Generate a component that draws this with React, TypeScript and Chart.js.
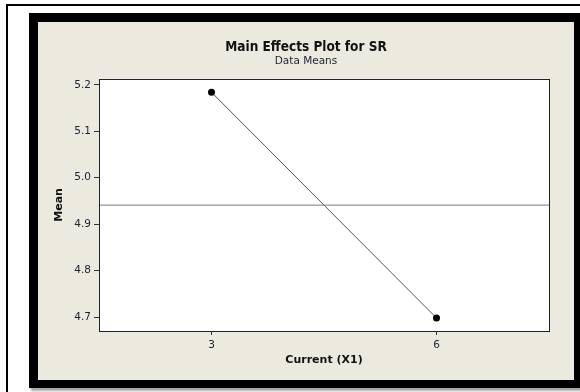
import React, { useEffect, useRef } from "react";
import { Chart, registerables } from "chart.js";

Chart.register(...registerables);

const levels = [3, 6];
const means = [5.184, 4.698];
const grandMean = 4.941;
const xTicks = [3, 6];
const yTicks = [4.7, 4.8, 4.9, 5.0, 5.1, 5.2];
const xRange = [1.5, 7.5];
const yRange = [4.67, 5.213];

const FONT = "'DejaVu Sans', Verdana, sans-serif";
const TITLE_FONT = "'DejaVu Sans Condensed', 'DejaVu Sans', sans-serif";

const framePlugin = {
  id: "frame",
  beforeDatasetsDraw(chart: any) {
    const { ctx, chartArea } = chart;
    ctx.save();
    ctx.fillStyle = "#ffffff";
    ctx.fillRect(chartArea.left, chartArea.top, chartArea.right - chartArea.left, chartArea.bottom - chartArea.top);
    ctx.restore();
  },
  afterDatasetsDraw(chart: any) {
    const { ctx, chartArea } = chart;
    ctx.save();
    ctx.strokeStyle = "#222";
    ctx.lineWidth = 1;
    ctx.strokeRect(Math.round(chartArea.left) + 0.5, Math.round(chartArea.top) + 0.5,
      Math.round(chartArea.right - chartArea.left), Math.round(chartArea.bottom - chartArea.top));
    ctx.restore();
  },
};

export default function App() {
  const ref = useRef<HTMLCanvasElement>(null);
  useEffect(() => {
    const chart = new Chart(ref.current!, {
      type: "line",
      data: {
        datasets: [
          {
            data: [
              { x: xRange[0], y: grandMean },
              { x: xRange[1], y: grandMean },
            ],
            borderColor: "#7a7a7a",
            borderWidth: 1,
            pointRadius: 0,
          },
          {
            data: levels.map((l, i) => ({ x: l, y: means[i] })),
            borderColor: "#555",
            borderWidth: 1,
            pointRadius: 3.5,
            pointBackgroundColor: "#000",
            pointBorderColor: "#000",
            pointBorderWidth: 0,
          },
        ],
      },
      options: {
        animation: false,
        responsive: false,
        layout: { padding: 0 },
        plugins: {
          legend: { display: false },
          tooltip: { enabled: false },
          title: {
            display: true,
            text: "Main Effects Plot for SR",
            font: { family: TITLE_FONT, size: 13.5, weight: "bold" },
            color: "#111",
            padding: { top: 17, bottom: 0 },
          },
          subtitle: {
            display: true,
            text: "Data Means",
            font: { family: FONT, size: 10.5 },
            color: "#1a2233",
            padding: { top: 0, bottom: 11 },
          },
        },
        scales: {
          x: {
            type: "linear",
            min: xRange[0],
            max: xRange[1],
            afterBuildTicks: (s: any) => {
              s.ticks = xTicks.map((v) => ({ value: v }));
            },
            afterFit: (s: any) => {
              s.height = 49;
            },
            grid: { drawOnChartArea: false, drawTicks: true, tickLength: 4, color: "#333" },
            border: { display: false },
            ticks: {
              font: { family: FONT, size: 10.5 },
              color: "#1a2233",
              padding: 4,
              callback: (v: any) => String(v),
            },
            title: {
              display: true,
              text: "Current (X1)",
              font: { family: FONT, size: 11, weight: "bold" },
              color: "#111",
              padding: { top: 4, bottom: 13 },
            },
          },
          y: {
            min: yRange[0],
            max: yRange[1],
            afterBuildTicks: (s: any) => {
              s.ticks = yTicks.map((v) => ({ value: v }));
            },
            afterFit: (s: any) => {
              s.width = 61;
            },
            grid: { drawOnChartArea: false, drawTicks: true, tickLength: 5, color: "#333" },
            border: { display: false },
            ticks: {
              font: { family: FONT, size: 10.5 },
              color: "#1a2233",
              padding: 3,
              callback: (v: any) => Number(v).toFixed(1),
            },
            title: {
              display: true,
              text: "Mean",
              font: { family: FONT, size: 11, weight: "bold" },
              color: "#111",
              padding: { top: 15, bottom: 0 },
            },
          },
          yRight: {
            position: "right",
            display: true,
            min: yRange[0],
            max: yRange[1],
            afterFit: (s: any) => {
              s.width = 25;
            },
            grid: { display: false, drawOnChartArea: false, drawTicks: false },
            border: { display: false },
            ticks: { display: false },
          },
        },
      },
      plugins: [framePlugin],
    } as any);
    return () => chart.destroy();
  }, []);

  return (
    <div style={{ position: "fixed", left: 0, top: 0, width: 580, height: 392, background: "#fff", overflow: "hidden" }}>
      <div style={{ position: "absolute", left: 6, top: 4, width: 574, height: 2, background: "#000" }} />
      <div style={{ position: "absolute", left: 6, top: 4, width: 2, height: 388, background: "#000" }} />
      <div
        style={{
          position: "absolute",
          left: 29,
          top: 13,
          width: 536,
          height: 358,
          background: "#ECE9DF",
          borderStyle: "solid",
          borderColor: "#000",
          borderWidth: "9px 6px 8px 9px",
          boxShadow: "2px 3px 2px rgba(0,0,0,0.35)",
        }}
      >
        <canvas ref={ref} width={536} height={358} style={{ display: "block", width: 536, height: 358 }} />
      </div>
    </div>
  );
}
